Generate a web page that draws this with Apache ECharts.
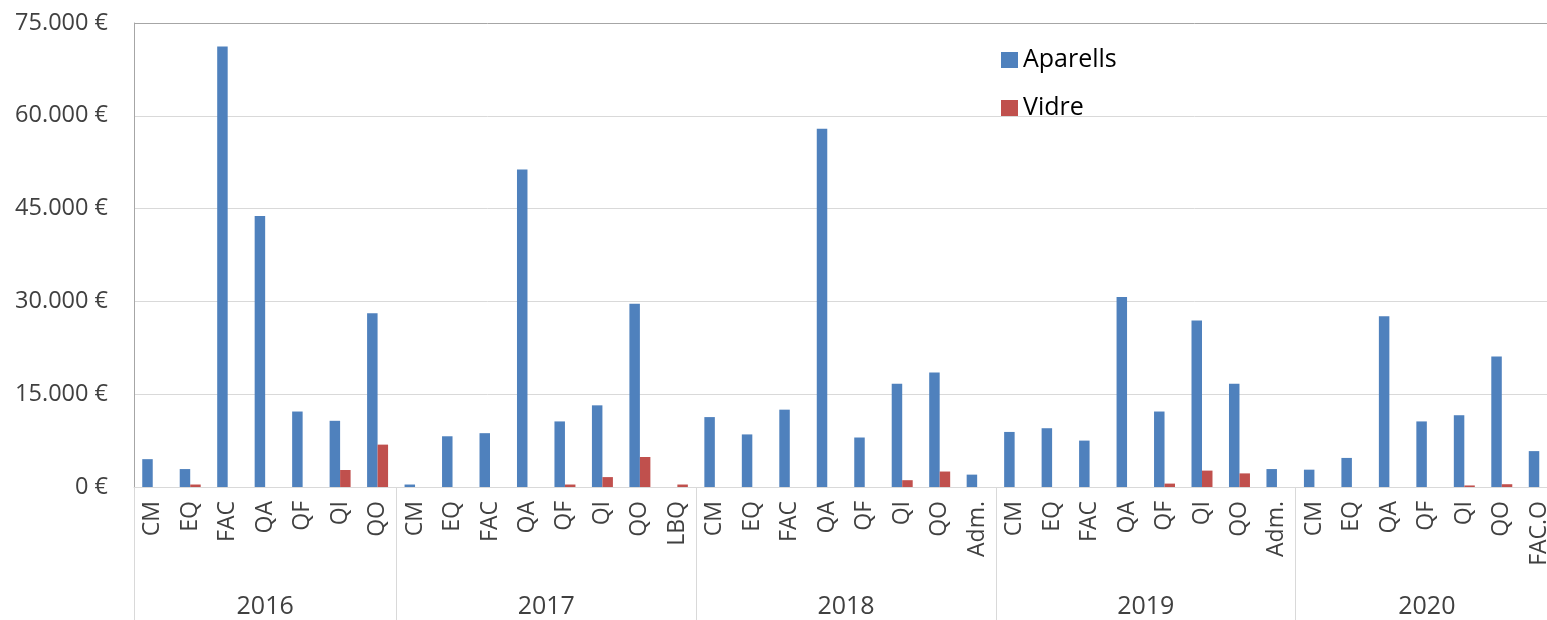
<!DOCTYPE html>
<html>
<head>
<meta charset="utf-8">
<script src="https://cdn.jsdelivr.net/npm/echarts@6/dist/echarts.min.js"></script>
<style>
html,body{margin:0;padding:0;background:#fff;}
#chart{width:1547px;height:620px;}
</style>
</head>
<body>
<div id="chart"></div>
<script>
// Categories (grouped by year)
const years = ['2016', '2017', '2018', '2019', '2020'];
const groups = [
  ['CM', 'EQ', 'FAC', 'QA', 'QF', 'QI', 'QO'],
  ['CM', 'EQ', 'FAC', 'QA', 'QF', 'QI', 'QO', 'LBQ'],
  ['CM', 'EQ', 'FAC', 'QA', 'QF', 'QI', 'QO', 'Adm.'],
  ['CM', 'EQ', 'FAC', 'QA', 'QF', 'QI', 'QO', 'Adm.'],
  ['CM', 'EQ', 'QA', 'QF', 'QI', 'QO', 'FAC.O']
];
// Series values (€)
const aparells = [
  4500, 2900, 71200, 43800, 12200, 10700, 28100,
  400, 8200, 8700, 51300, 10600, 13200, 29600, null,
  11300, 8500, 12500, 57900, 8000, 16700, 18500, 2000,
  8900, 9500, 7500, 30700, 12200, 26900, 16700, 2900,
  2800, 4700, 27600, 10600, 11600, 21100, 5800
];
const vidre = [
  null, 400, null, null, null, 2750, 6850,
  null, null, null, null, 400, 1600, 4850, 400,
  null, null, null, null, null, 1100, 2500, null,
  null, null, null, null, 550, 2650, 2200, null,
  null, null, null, null, 250, 450, null
];
const yTicks = [0, 15000, 30000, 45000, 60000, 75000];

const categories = [];
const groupStart = [];
const groupCenter = {};
groups.forEach((g, gi) => {
  groupStart.push(categories.length);
  const mid = categories.length + Math.floor((g.length - 1) / 2);
  groupCenter[mid] = { year: years[gi], shift: g.length % 2 === 0 };
  g.forEach(c => categories.push(c));
});

function fmtEuro(v) {
  return String(v).replace(/\B(?=(\d{3})+(?!\d))/g, '.') + ' €';
}

const chart = echarts.init(document.getElementById('chart'), null, { renderer: 'canvas' });
const FONT = 'Open Sans';
chart.setOption({
  animation: false,
  backgroundColor: '#ffffff',
  grid: { left: 134, top: 23, height: 464, width: 1424, containLabel: false, outerBoundsMode: 'none' },
  legend: {
    orient: 'vertical',
    left: 996,
    top: 40,
    itemWidth: 17,
    itemHeight: 16,
    itemGap: 18,
    icon: 'rect',
    textStyle: { fontFamily: FONT, fontSize: 25, color: '#000', lineHeight: 30 },
    data: ['Aparells', 'Vidre']
  },
  xAxis: [
    {
      type: 'category',
      data: categories,
      position: 'bottom',
      axisLine: { show: true, lineStyle: { color: '#d9d9d9', width: 1 } },
      axisTick: { show: false },
      axisLabel: {
        interval: 0,
        rotate: 90,
        margin: 14,
        fontFamily: FONT,
        fontSize: 23,
        color: '#404040'
      },
      splitLine: { show: false }
    },
    {
      type: 'category',
      data: categories,
      position: 'bottom',
      offset: 0,
      axisLine: { show: false },
      axisTick: {
        show: true,
        length: 140,
        interval: function (index) { return groupStart.indexOf(index) >= 0; },
        lineStyle: { color: '#d9d9d9', width: 1 }
      },
      axisLabel: {
        interval: 0,
        margin: 107,
        hideOverlap: false,
        formatter: function (value, index) {
          const g = groupCenter[index];
          if (!g) return '';
          return g.shift ? '{b|' + g.year + '}' : '{a|' + g.year + '}';
        },
        rich: {
          a: { fontFamily: FONT, fontSize: 25, color: '#404040' },
          b: { fontFamily: FONT, fontSize: 25, color: '#404040', padding: [0, 0, 0, 37.5] }
        }
      },
      splitLine: { show: false }
    }
  ],
  yAxis: {
    type: 'value',
    min: 0,
    max: 75000,
    interval: 15000,
    axisLine: { show: true, lineStyle: { color: '#a6a6a6', width: 1 } },
    axisTick: { show: false },
    axisLabel: {
      margin: 26,
      fontFamily: FONT,
      fontSize: 23.5,
      color: '#404040',
      formatter: function (v) { return yTicks.indexOf(v) >= 0 ? fmtEuro(v) : ''; }
    },
    splitLine: {
      show: true,
      lineStyle: { color: ['#d9d9d9', '#d9d9d9', '#d9d9d9', '#d9d9d9', '#d9d9d9', '#a6a6a6'], width: 1 }
    }
  },
  series: [
    {
      name: 'Aparells',
      type: 'bar',
      data: aparells,
      barGap: '0%',
      barCategoryGap: '44%',
      itemStyle: { color: '#4F81BD' }
    },
    {
      name: 'Vidre',
      type: 'bar',
      data: vidre,
      barGap: '0%',
      barCategoryGap: '44%',
      itemStyle: { color: '#C0504D' }
    }
  ]
});
</script>
</body>
</html>
